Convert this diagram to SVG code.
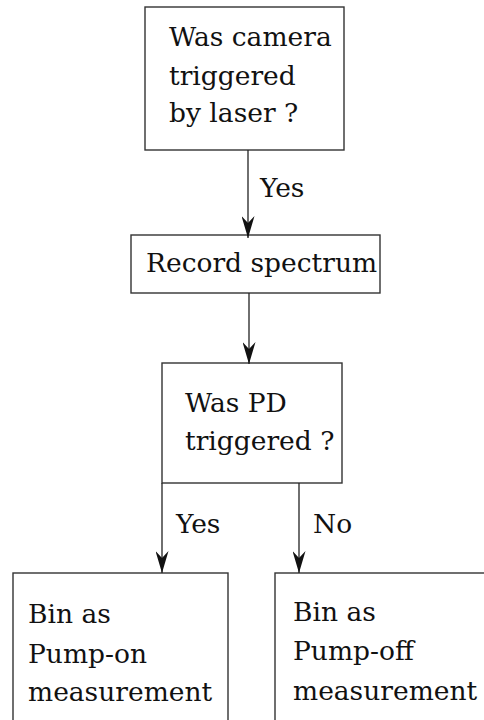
<svg xmlns="http://www.w3.org/2000/svg" width="484" height="720" viewBox="0 0 484 720">
<style>
.box{fill:#fff;stroke:#333;stroke-width:1.4}
.t{font-family:"DejaVu Serif","Liberation Serif",serif;font-size:26.5px;fill:#111}
.c{stroke:#222;stroke-width:1.3;fill:none}
</style>
<defs>
<marker id="ah" markerWidth="22" markerHeight="13" refX="22" refY="6.5" orient="auto" markerUnits="userSpaceOnUse" viewBox="0 0 22 13">
<path d="M0,0 L22,6.5 L0,13 L7,6.5 Z" fill="#111"/>
</marker>
</defs>
<rect width="484" height="720" fill="#fff"/>
<g id="n1">
<rect class="box" x="145" y="7" width="199" height="143"/>
<text class="t" x="169" y="46">Was camera</text>
<text class="t" x="169" y="85">triggered</text>
<text class="t" x="169" y="122">by laser ?</text>
</g>
<g id="n2">
<rect class="box" x="131" y="235" width="249" height="58"/>
<text class="t" x="146" y="272">Record spectrum</text>
</g>
<g id="n3">
<rect class="box" x="162" y="363" width="180" height="120"/>
<text class="t" x="185" y="412">Was PD</text>
<text class="t" x="185" y="450">triggered ?</text>
</g>
<g id="n4">
<rect class="box" x="13" y="573" width="215" height="160"/>
<text class="t" x="28" y="623">Bin as</text>
<text class="t" x="28" y="663">Pump-on</text>
<text class="t" x="28" y="701">measurement</text>
</g>
<g id="n5">
<rect class="box" x="275" y="573" width="220" height="160"/>
<text class="t" x="293" y="621">Bin as</text>
<text class="t" x="293" y="660">Pump-off</text>
<text class="t" x="293" y="700">measurement</text>
</g>
<g id="connectors">
<line class="c" x1="248" y1="150" x2="248" y2="238" marker-end="url(#ah)"/>
<line class="c" x1="249" y1="293" x2="249" y2="364" marker-end="url(#ah)"/>
<line class="c" x1="162" y1="483" x2="162" y2="573" marker-end="url(#ah)"/>
<line class="c" x1="299" y1="483" x2="299" y2="573" marker-end="url(#ah)"/>
<text class="t" x="260" y="197">Yes</text>
<text class="t" x="176" y="533">Yes</text>
<text class="t" x="313" y="533">No</text>
</g>
</svg>
